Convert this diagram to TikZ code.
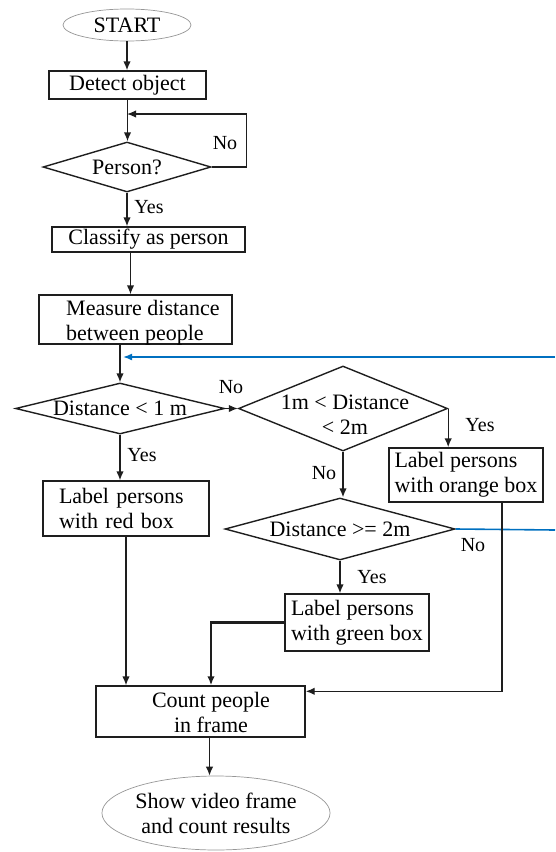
\documentclass[tikz,border=0pt]{standalone}
\usepackage{fontspec}
\setmainfont{Liberation Serif}
\usetikzlibrary{shapes.geometric,arrows.meta}
\definecolor{flowblue}{RGB}{0,112,192}
\definecolor{edgegrey}{RGB}{150,150,150}
\definecolor{ink}{RGB}{30,30,30}
\begin{document}
\begin{tikzpicture}[x=1pt,y=-1pt,
  every node/.style={font=\fontsize{22}{25}\selectfont},
  terminal/.style={ellipse,draw=edgegrey,line width=0.7pt,inner sep=0pt,align=center},
  stepbox/.style={rectangle,draw=ink,line width=1.4pt,inner sep=0pt,align=center},
  decision/.style={diamond,draw=ink,line width=1.4pt,inner sep=0pt,align=center},
  caption/.style={inner sep=0pt,align=center},
  tag/.style={inner sep=0pt,font=\fontsize{20}{22}\selectfont},
  flow/.style={draw=ink,line width=1.4pt,-{Latex[length=9pt,width=7.5pt]}},
  back/.style={draw=flowblue,line width=1.6pt}]

\useasboundingbox (0,0) rectangle (555,852);

% main column
\node[terminal,minimum width=128pt,minimum height=32pt] (start) at (127,25) {START};
\node[stepbox,minimum width=157pt,minimum height=28pt] (detect) at (127.5,85) {Detect object};
\node[decision,aspect=3.36,minimum width=168pt,minimum height=50pt] (person) at (127,167) {Person?};
\node[stepbox,minimum width=193pt,minimum height=25pt] (classify) at (148.5,239.5) {Classify as person};
\node[stepbox,minimum width=193pt,minimum height=49pt] (measure) at (135.5,319.5) {};
\node[caption,anchor=west,align=left] (measuretext) at (66,323) {Measure distance\\between people};

% distance decisions
\node[decision,aspect=4.1,minimum width=209pt,minimum height=51pt] (d1) at (120,408.5) {Distance < 1 m};
\node[decision,minimum width=209pt,minimum height=85pt] (d2) at (343,408.5) {};
\node[caption] (d2text) at (345,415) {1m < Distance\\< 2m};
\node[decision,aspect=3.7,minimum width=230pt,minimum height=62pt] (d3) at (340,529) {Distance >= 2m};

% labelling boxes
\node[stepbox,minimum width=166pt,minimum height=55pt,text width=134pt,align=left] (red) at (126,508.5) {Label persons\\with red box};
\node[stepbox,minimum width=154pt,minimum height=54pt,align=left] (orange) at (466,475) {Label persons\\with orange box};
\node[stepbox,minimum width=144pt,minimum height=57pt,align=left] (green) at (357,622.5) {Label persons\\with green box};

% counting and output
\node[stepbox,minimum width=209pt,minimum height=51pt] (count) at (200.5,711.5) {};
\node[caption] (counttext) at (211,712) {Count people\\in frame};
\node[terminal,minimum width=219pt,minimum height=74pt] (final) at (216,813) {Show video frame\\and count results};

% helper points
\coordinate (loopin) at (127,114);
\coordinate (bluein) at (120,357);
\coordinate (blueR1) at (555,357);
\coordinate (blueR2) at (555,530);

% connectors
\draw[flow] (start.south) -- (start.south |- detect.north);
\draw[flow] (detect.south) -- (detect.south |- person.north);
\draw[flow] (person.east) -- ++(35,0) |- (loopin);
\node[tag] (no0) at (225,143) {No};
\draw[flow] (person.south) -- (person.south |- classify.north);
\node[tag] (yes0) at (149,207) {Yes};
\draw[flow] ([xshift=-18pt]classify.south) -- ([xshift=-18pt]classify.south |- measure.north);
\draw[flow] (d1.north |- measure.south) -- (d1.north);
\draw[back,-{Latex[length=9pt,width=7pt]}] (blueR1) -- ([xshift=3pt]bluein);

\draw[flow] (d1.east) -- (d2.west);
\node[tag] (no1) at (231,387) {No};
\draw[flow] (d2.east) -- (d2.east |- orange.north);
\node[tag] (yes2) at (480,425) {Yes};
\draw[flow] (d2.south) -- (d2.south |- d3.north);
\node[tag] (no2) at (324,473) {No};
\draw[flow] (d1.south) -- (d1.south |- red.north);
\node[tag] (yes1) at (142,455) {Yes};

\draw[back] (d3.east) -- (blueR2);
\node[tag] (no3) at (473,545) {No};
\draw[flow] (d3.south) -- (d3.south |- green.north);
\node[tag] (yes3) at (372,577) {Yes};

\draw[flow] (red.south) -- (red.south |- count.north);
\draw[flow,line width=2.2pt] (green.west) -| ([xshift=10.5pt]count.north);
\draw[flow] ([xshift=36pt]orange.south) |- ([yshift=-6pt]count.north east);
\draw[flow] ([xshift=9pt]count.south) -- ([xshift=9pt]count.south |- final.north);
\end{tikzpicture}
\end{document}
